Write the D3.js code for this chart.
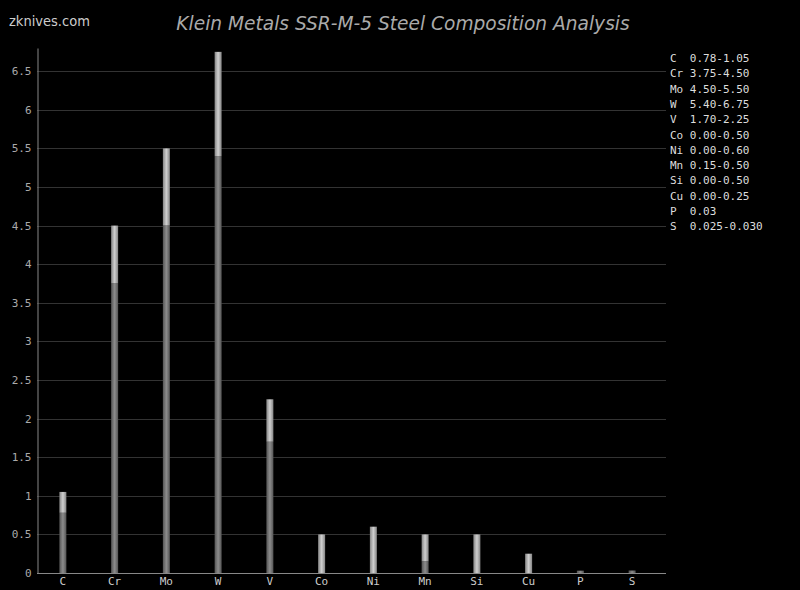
<!DOCTYPE html>
<html><head><meta charset="utf-8">
<script src="https://cdn.jsdelivr.net/npm/d3@7"></script>
<style>body{margin:0;background:#000}svg{display:block}</style>
</head><body>
<svg id="c" width="800" height="590"></svg>
<script>
const elements = ["C","Cr","Mo","W","V","Co","Ni","Mn","Si","Cu","P","S"];
const minVals = [0.78,3.75,4.50,5.40,1.70,0.00,0.00,0.15,0.00,0.00,0.03,0.025];
const maxVals = [1.05,4.50,5.50,6.75,2.25,0.50,0.60,0.50,0.50,0.25,0.03,0.030];
const rangeLabels = ["0.78-1.05","3.75-4.50","4.50-5.50","5.40-6.75","1.70-2.25","0.00-0.50","0.00-0.60","0.15-0.50","0.00-0.50","0.00-0.25","0.03","0.025-0.030"];
const yTicks = [0,0.5,1,1.5,2,2.5,3,3.5,4,4.5,5,5.5,6,6.5];

const svg = d3.select("#c");
svg.append("rect").attr("width",800).attr("height",590).attr("fill","#000");
const pLeft=37, pRight=666, pTop=48, pBottom=573;
const x = d3.scaleBand().domain(elements).range([pLeft,658]);
const y = d3.scaleLinear().domain([0,6.8]).range([pBottom,pTop]);

const defs = svg.append("defs");
function grad(id, edge, mid){
  const g = defs.append("linearGradient").attr("id",id).attr("x1","0").attr("x2","1").attr("y1","0").attr("y2","0");
  g.append("stop").attr("offset","0").attr("stop-color",edge);
  g.append("stop").attr("offset","0.5").attr("stop-color",mid);
  g.append("stop").attr("offset","1").attr("stop-color",edge);
}
grad("gLow","#555","#8c8c8c");
grad("gHigh","#858585","#cfcfcf");

// gridlines
svg.append("g").selectAll("line").data(yTicks.filter(d=>d>0)).join("line")
  .attr("x1",pLeft).attr("x2",pRight).attr("y1",d=>Math.round(y(d))+0.5).attr("y2",d=>Math.round(y(d))+0.5)
  .attr("stroke","#333").attr("stroke-width",1);

// y axis
const yAxis = d3.axisLeft(y).tickValues(yTicks).tickSize(0).tickPadding(6).tickFormat(d=>String(d));
const ga = svg.append("g").attr("transform",`translate(${pLeft+0.5},0)`).call(yAxis);
ga.select(".domain").attr("stroke","#888");
ga.selectAll("text").attr("fill","#aaa").attr("font-family","DejaVu Sans Mono, monospace").attr("font-size",11);

// x axis
const xAxis = d3.axisBottom(x).tickSize(0).tickPadding(4);
const gx = svg.append("g").attr("transform",`translate(0,${pBottom+0.5})`).call(xAxis);
gx.select(".domain").attr("stroke","#888").attr("d",`M${pLeft},0H${pRight}`);
gx.selectAll("text").attr("fill","#ccc").attr("font-family","DejaVu Sans Mono, monospace").attr("font-size",11);

const bw = 7;
const bars = svg.append("g");
elements.forEach((e,i)=>{
  const cx = x(e)+x.bandwidth()/2;
  const lo = minVals[i], hi = maxVals[i];
  if (lo>0) bars.append("rect").attr("x",cx-bw/2).attr("width",bw)
    .attr("y",y(lo)).attr("height",y(0)-y(lo)).attr("fill","url(#gLow)");
  if (hi>lo) bars.append("rect").attr("x",cx-bw/2).attr("width",bw)
    .attr("y",y(hi)).attr("height",y(lo)-y(hi)).attr("fill","url(#gHigh)");
});

// legend
const lg = svg.append("g").attr("font-family","DejaVu Sans Mono, monospace").attr("font-size",11).attr("fill","#ddd");
elements.forEach((e,i)=>{
  lg.append("text").attr("x",670).attr("y",62+i*15.3).attr("xml:space","preserve")
    .text(e.padEnd(2," ")+" "+rangeLabels[i]);
});

// title
svg.append("text").attr("x",403).attr("y",30).attr("text-anchor","middle")
  .attr("font-family","DejaVu Sans, sans-serif").attr("font-style","italic").attr("font-size",18.6).attr("fill","#aaa")
  .text("Klein Metals SSR-M-5 Steel Composition Analysis");
svg.append("text").attr("x",9).attr("y",26)
  .attr("font-family","DejaVu Sans Condensed, DejaVu Sans, sans-serif").attr("font-stretch","condensed").attr("font-size",14.5).attr("fill","#ccc")
  .text("zknives.com");
</script>
</body></html>
